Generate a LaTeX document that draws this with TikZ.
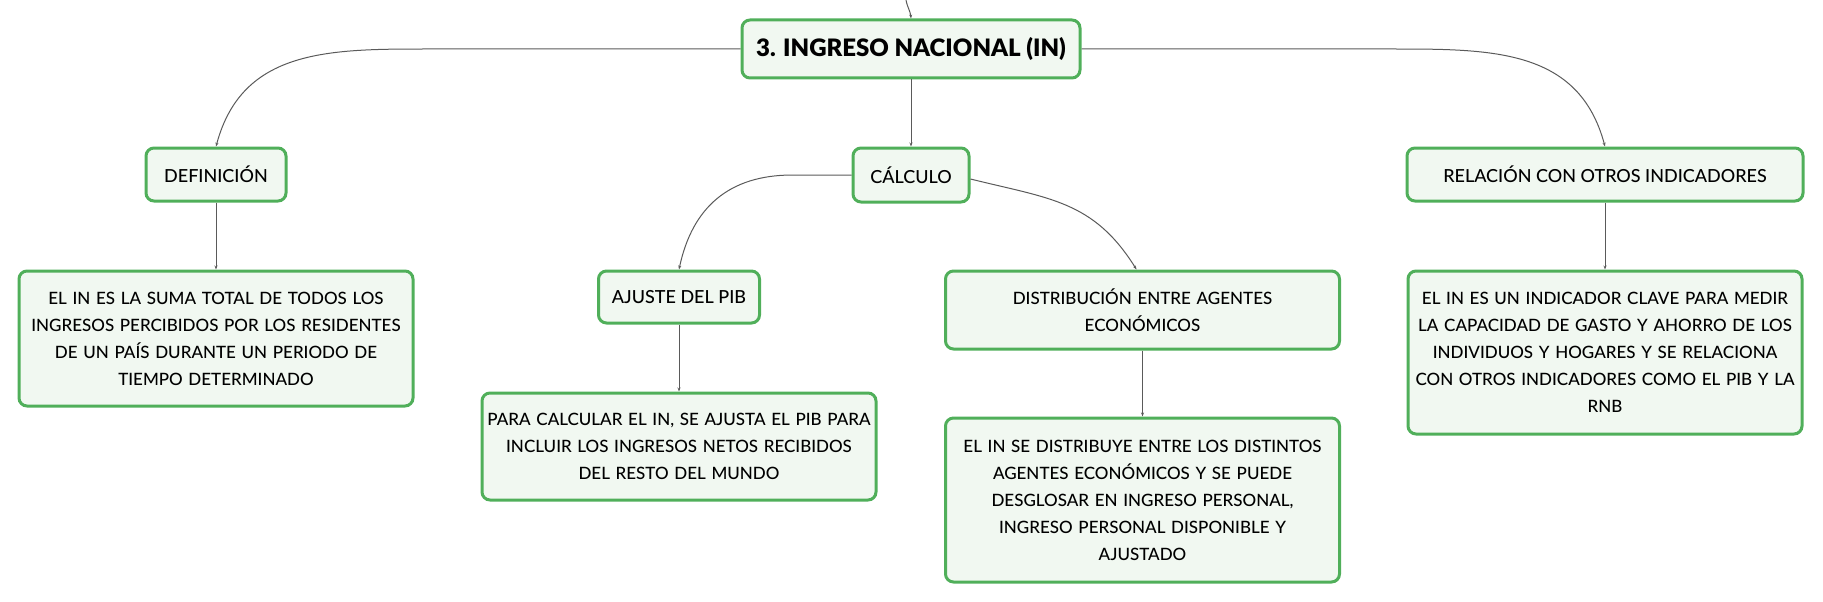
\documentclass[tikz,border=0pt]{standalone}
\usepackage{fontspec}
\setmainfont{Lato Medium}
\newfontfamily\negra{Lato Black}
\usepackage{tikz}
\usetikzlibrary{arrows.meta, positioning}
\definecolor{borde}{RGB}{80,175,90}
\definecolor{relleno}{RGB}{241,248,241}
\definecolor{linea}{RGB}{90,90,90}
\tikzstyle{tema}=
[
	rectangle
	, rounded corners=8pt
	, minimum width=338pt
	, minimum height=58pt
	, draw=borde
	, line width=3pt
	, fill=relleno
	, font=\negra\fontsize{24}{30}\selectfont
]
\tikzstyle{rama}=
[
	rectangle
	, rounded corners=8pt
	, minimum height=53pt
	, draw=borde
	, line width=3pt
	, fill=relleno
	, font=\fontsize{18}{27}\selectfont
]
\tikzstyle{hoja}=
[
	rectangle
	, rounded corners=8pt
	, text width=388pt
	, inner sep=3pt
	, align=center
	, draw=borde
	, line width=3pt
	, fill=relleno
	, font=\fontsize{17}{27}\selectfont
]
\tikzstyle{arrow} = [line width=1pt, draw=linea, -{Stealth[length=4pt,width=3pt]}]

\begin{document}
\begin{tikzpicture}[x=1pt, y=1pt]
\useasboundingbox (0,0) rectangle (1823,-602);
\node(main)[tema] at (911,-49) {3. INGRESO NACIONAL (IN)};
\coordinate(arriba) at (906,0);
\node(def)[rama, below of=main, node distance=125.5pt, xshift=-695pt, minimum width=140pt]{DEFINICIÓN};
\node(calc)[rama, below of=main, node distance=126pt, minimum width=116pt, minimum height=54pt]{CÁLCULO};
\node(rel)[rama, below of=main, node distance=125.5pt, xshift=694pt, minimum width=396pt]{RELACIÓN CON OTROS INDICADORES};
\node(defin)[hoja, below of=def, node distance=164pt, minimum height=135pt]{EL IN ES LA SUMA TOTAL DE TODOS LOS\\INGRESOS PERCIBIDOS POR LOS RESIDENTES\\DE UN PAÍS DURANTE UN PERIODO DE\\TIEMPO DETERMINADO};
\node(ajuste)[rama, below of=calc, node distance=122pt, xshift=-232pt, minimum width=161pt, minimum height=52pt]{AJUSTE DEL PIB};
\node(para)[hoja, below of=ajuste, node distance=149.5pt, minimum height=107pt]{PARA CALCULAR EL IN, SE AJUSTA EL PIB PARA\\INCLUIR LOS INGRESOS NETOS RECIBIDOS\\DEL RESTO DEL MUNDO};
\node(dist)[hoja, below of=calc, node distance=135pt, xshift=231.5pt, minimum height=78pt]{DISTRIBUCIÓN ENTRE AGENTES\\ECONÓMICOS};
\node(reparto)[hoja, below of=dist, node distance=190pt, minimum height=164pt]{EL IN SE DISTRIBUYE ENTRE LOS DISTINTOS\\AGENTES ECONÓMICOS Y SE PUEDE\\DESGLOSAR EN INGRESO PERSONAL,\\INGRESO PERSONAL DISPONIBLE Y\\AJUSTADO};
\node(relin)[hoja, below of=rel, node distance=178pt, minimum height=163pt]{EL IN ES UN INDICADOR CLAVE PARA MEDIR\\LA CAPACIDAD DE GASTO Y AHORRO DE LOS\\INDIVIDUOS Y HOGARES Y SE RELACIONA\\CON OTROS INDICADORES COMO EL PIB Y LA\\RNB};

\draw[arrow](arriba) to[out=-80,in=95] (main.north);
\draw[arrow](main.west) -- ++(-308,0) to[out=180,in=75,looseness=1.1] (def.north);
\draw[arrow](main.south) -- (calc.north);
\draw[arrow](main.east) -- ++(310,0) to[out=0,in=105,looseness=1.1] (rel.north);

\draw[arrow](def.south) -- (defin.north);
\draw[arrow](calc.west) -- ++(-59,0) to[out=180,in=78,looseness=1.1] (ajuste.north);
\draw[arrow]([yshift=-4pt]calc.east) to[out=-14,in=122,looseness=1.1] ([xshift=-6pt]dist.north);
\draw[arrow](rel.south) -- (relin.north);

\draw[arrow](ajuste.south) -- (para.north);
\draw[arrow](dist.south) -- (reparto.north);

\end{tikzpicture}
\end{document}
